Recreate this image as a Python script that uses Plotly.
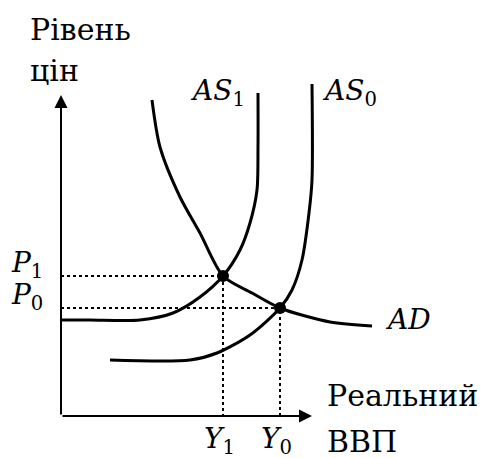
import plotly.graph_objects as go

as1_x = [0, 29, 79, 112, 139, 162, 179, 189, 196, 197, 197]
as1_y = [96, 96, 96, 103, 119, 140, 166, 193, 226, 269, 323]

as0_x = [49, 129, 156, 189, 219, 231, 241, 248, 251, 251]
as0_y = [56, 56, 63, 81, 108, 126, 156, 203, 236, 332]

ad_x = [91, 99, 119, 139, 162, 191, 219, 269, 311]
ad_y = [316, 269, 219, 183, 140, 123, 108, 94, 90]

# equilibria: (Y1, P1) and (Y0, P0)
eq_y = [162, 219]
eq_p = [140, 108]
eq_names = ['1', '0']

x_tip, y_tip = 251, 321

FONT = "DejaVu Serif"
line = dict(color='black', width=3)

fig = go.Figure()

# dotted guide lines
for yv, pv in zip(eq_y, eq_p):
    fig.add_trace(go.Scatter(x=[0, yv, yv], y=[pv, pv, 0], mode='lines',
                             line=dict(color='black', width=2, dash='3px,3px')))

fig.add_trace(go.Scatter(x=as1_x, y=as1_y, mode='lines',
                         line=dict(line, shape='spline', smoothing=0.8)))
fig.add_trace(go.Scatter(x=as0_x, y=as0_y, mode='lines',
                         line=dict(line, shape='spline', smoothing=0.8)))
fig.add_trace(go.Scatter(x=ad_x, y=ad_y, mode='lines',
                         line=dict(line, shape='spline', smoothing=0.8)))
fig.add_trace(go.Scatter(x=eq_y, y=eq_p, mode='markers',
                         marker=dict(color='black', size=12)))

# axes with arrows
for tx, ty in [(0, y_tip), (x_tip, 0)]:
    fig.add_annotation(x=tx, y=ty, ax=0, ay=0, xref='x', yref='y',
                       axref='x', ayref='y', showarrow=True, arrowhead=2,
                       arrowsize=1.3, arrowwidth=2, arrowcolor='black', text='')

def label(txt, x, y, size=28, anchor='left'):
    fig.add_annotation(x=x, y=y, text=txt, showarrow=False, xanchor=anchor,
                       yanchor='middle', font=dict(family=FONT, size=size, color='black'))

label('Рівень', -33, 387, 30)
label('цін', -33, 346, 30)
label('Реальний', 264, 21, 30)
label('ВВП', 264, -25, 30)
for yv, pv, n in zip(eq_y, eq_p, eq_names):
    label(f'<i>Y</i><sub>{n}</sub>', yv - 4, -24, anchor='center')
    label(f'<i>P</i><sub>{n}</sub>', -52, pv + 12)
label('<i>AS</i><sub>1</sub>', 127, 324)
label('<i>AS</i><sub>0</sub>', 259, 324)
label('<i>AD</i>', 322, 97)

fig.update_layout(width=484, height=458, margin=dict(l=0, r=0, t=0, b=0),
                  paper_bgcolor='white', plot_bgcolor='white', showlegend=False)
fig.update_xaxes(range=[-61, 423], visible=False)
fig.update_yaxes(range=[-42, 416], visible=False)

fig.write_html("out.html", config={'displayModeBar': False},
               post_script="document.body.style.margin='0';")
